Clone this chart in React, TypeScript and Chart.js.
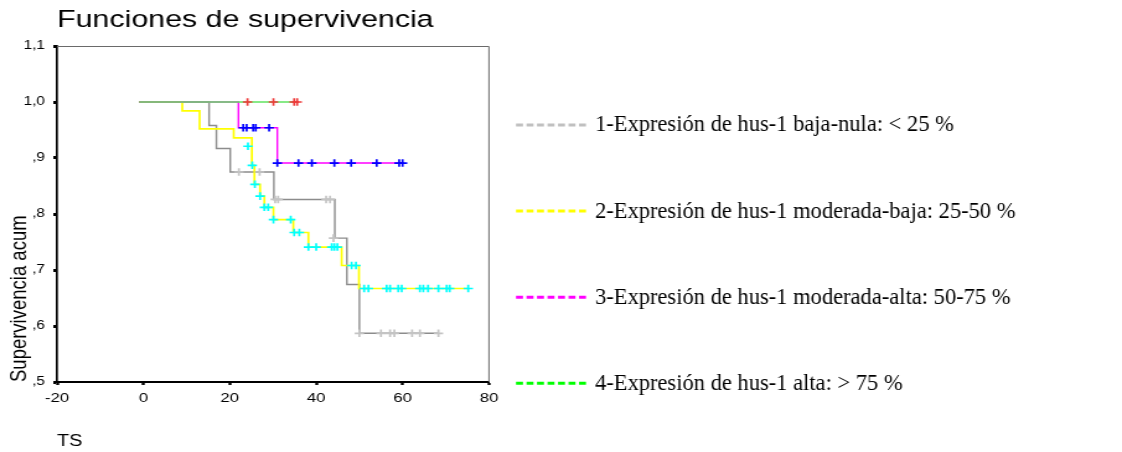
import React, { useEffect, useRef } from 'react';
import { Chart, registerables } from 'chart.js';

Chart.register(...registerables);

// ---- data ----
const TITLE = 'Funciones de supervivencia';
const Y_TITLE = 'Supervivencia acum';
const X_TITLE = 'TS';
const X_MIN = -20;
const X_MAX = 80;
const X_STEP = 20;
const Y_MIN = 0.5;
const Y_MAX = 1.1;
const Y_STEP = 0.1;

const groupLabels = [
  '1-Expresión de hus-1 baja-nula: < 25 %',
  '2-Expresión de hus-1 moderada-baja: 25-50 %',
  '3-Expresión de hus-1 moderada-alta: 50-75 %',
  '4-Expresión de hus-1 alta: > 75 %',
];

// Group 1 (baja-nula)
const g1Times = [-1, 15.2, 16.9, 20.1, 30.2, 44.3, 47.1, 50.0, 68.3];
const g1Surv = [1.0, 0.958, 0.917, 0.875, 0.826, 0.757, 0.674, 0.587, 0.587];
const g1CensTimes = [22.1, 26.9, 30.5, 31.2, 42.3, 43.2, 44.0, 50.0, 55.0, 57.1, 58.1, 62.2, 64.0, 68.3];
const g1CensSurv = [0.875, 0.875, 0.826, 0.826, 0.826, 0.826, 0.757, 0.587, 0.587, 0.587, 0.587, 0.587, 0.587, 0.587];

// Group 2 (moderada-baja)
const g2Times = [-1, 9.0, 13.0, 20.9, 25.1, 25.7, 27.0, 28.0, 30.1, 34.7, 38.2, 45.9, 49.9, 75.2];
const g2Surv = [1.0, 0.984, 0.952, 0.936, 0.887, 0.853, 0.832, 0.812, 0.79, 0.767, 0.741, 0.708, 0.667, 0.667];
const g2CensTimes = [24.2, 25.2, 25.8, 27.0, 28.0, 28.9, 30.1, 34.1, 34.9, 36.1, 38.2, 40.0, 43.6, 44.2, 44.9, 48.2, 49.2,
  51.1, 52.1, 56.3, 57.1, 59.0, 59.8, 64.0, 64.8, 65.9, 68.3, 70.2, 70.9, 75.2];
const g2CensSurv = [0.921, 0.887, 0.853, 0.832, 0.812, 0.812, 0.79, 0.79, 0.767, 0.767, 0.741, 0.741, 0.741, 0.741, 0.741, 0.708, 0.708,
  0.667, 0.667, 0.667, 0.667, 0.667, 0.667, 0.667, 0.667, 0.667, 0.667, 0.667, 0.667, 0.667];

// Group 3 (moderada-alta)
const g3Times = [-1, 22.0, 31.0, 60.0];
const g3Surv = [1.0, 0.954, 0.891, 0.891];
const g3CensTimes = [23.1, 23.9, 25.4, 26.0, 29.1, 31.0, 35.9, 39.0, 44.2, 48.1, 54.0, 59.2, 60.0];
const g3CensSurv = [0.954, 0.954, 0.954, 0.954, 0.954, 0.891, 0.891, 0.891, 0.891, 0.891, 0.891, 0.891, 0.891];

// Group 4 (alta)
const g4Times = [-1, 35.6];
const g4Surv = [1.0, 1.0];
const g4CensTimes = [24.1, 30.1, 34.9, 35.6];
const g4CensSurv = [1.0, 1.0, 1.0, 1.0];

// ---- styling ----
const CANVAS_W = 905; // internal width, stretched to 1122 on screen
const SCREEN_W = 1122;
const H = 452;
const S = SCREEN_W / CANVAS_W;

const lineColors = ['#8c8c8c', '#ffff00', '#ff00ff', '#5fe35f'];
const censColors = ['#c4c4c4', '#00ffff', '#0000ff', '#ee3a3a'];
const legendColors = ['#c0c0c0', '#ffff00', '#ff00ff', '#00ff00'];

const toPts = (xs: number[], ys: number[]) => xs.map((x, i) => ({ x, y: ys[i] }));

const fmtY = (v: number) => {
  const s = Number(v).toFixed(1).replace('.', ',');
  return s.startsWith('0') ? s.slice(1) : s;
};

const framePlugin = {
  id: 'frame',
  beforeDatasetsDraw(chart: any) {
    const { ctx, chartArea } = chart;
    ctx.save();
    ctx.strokeStyle = '#6a6a6a';
    ctx.lineWidth = 1;
    ctx.beginPath();
    ctx.moveTo(chartArea.left, chartArea.top + 0.5);
    ctx.lineTo(chartArea.right, chartArea.top + 0.5);
    ctx.lineTo(chartArea.right, chartArea.bottom);
    ctx.stroke();
    ctx.restore();
  },
};

const sideLegendPlugin = {
  id: 'sideLegend',
  afterDraw(chart: any) {
    const ctx = chart.ctx;
    ctx.save();
    ctx.scale(1 / S, 1);
    const x0 = 516;
    const x1 = 587;
    const tx = 595;
    const y0 = 125;
    const dy = 86.1;
    groupLabels.forEach((label, i) => {
      const y = y0 + i * dy;
      ctx.strokeStyle = legendColors[i];
      ctx.lineWidth = 3;
      ctx.setLineDash([7, 3.5]);
      ctx.beginPath();
      ctx.moveTo(x0, y);
      ctx.lineTo(x1, y);
      ctx.stroke();
      ctx.setLineDash([]);
      ctx.fillStyle = '#000';
      ctx.font = '22.5px "Liberation Serif", "Times New Roman", serif';
      ctx.textAlign = 'left';
      ctx.textBaseline = 'middle';
      ctx.fillText(label, tx, y + 0.5);
    });
    ctx.restore();
  },
};

export default function App() {
  const ref = useRef<HTMLCanvasElement | null>(null);

  useEffect(() => {
    if (!ref.current) return;
    Chart.defaults.font.family = '"Liberation Sans", Arial, sans-serif';
    Chart.defaults.color = '#000';

    const curves = [
      toPts(g1Times, g1Surv),
      toPts(g2Times, g2Surv),
      toPts(g3Times, g3Surv),
      toPts(g4Times, g4Surv),
    ];
    const cens = [
      toPts(g1CensTimes, g1CensSurv),
      toPts(g2CensTimes, g2CensSurv),
      toPts(g3CensTimes, g3CensSurv),
      toPts(g4CensTimes, g4CensSurv),
    ];

    const datasets: any[] = [];
    curves.forEach((data, i) => {
      datasets.push({
        label: groupLabels[i],
        data,
        showLine: true,
        stepped: 'before',
        borderColor: lineColors[i],
        backgroundColor: lineColors[i],
        borderWidth: i === 1 ? 1.7 : 1.4,
        pointRadius: 0,
        fill: false,
        order: 8 - i,
      });
    });
    cens.forEach((data, i) => {
      datasets.push({
        label: groupLabels[i] + ' (censurado)',
        data,
        showLine: false,
        pointStyle: 'cross',
        pointRadius: 3.8,
        pointBorderWidth: 1.7,
        borderColor: censColors[i],
        backgroundColor: censColors[i],
        order: 4 - i,
      });
    });

    const chart = new Chart(ref.current, {
      type: 'scatter',
      data: { datasets },
      plugins: [framePlugin, sideLegendPlugin],
      options: {
        animation: false,
        responsive: false,
        devicePixelRatio: 1,
        layout: { padding: { top: 5.8, left: 0, right: 510.6, bottom: 0 } },
        plugins: {
          legend: { display: false },
          tooltip: { enabled: false },
          title: {
            display: true,
            text: TITLE,
            align: 'start',
            fullSize: false,
            color: '#000',
            font: { size: 24.5, weight: 'normal', lineHeight: 1.2 },
            padding: { top: 0, bottom: 10.8 },
          },
        },
        scales: {
          x: {
            type: 'linear',
            min: X_MIN,
            max: X_MAX,
            afterFit: (scale: any) => { scale.height = 70; },
            ticks: {
              stepSize: X_STEP,
              color: '#000',
              font: { size: 13.5 },
              padding: 5.2,
              maxRotation: 0,
              autoSkip: false,
            },
            grid: {
              display: true,
              drawOnChartArea: false,
              drawTicks: true,
              tickLength: 3,
              tickWidth: 2.4,
              tickColor: '#000',
            },
            border: { display: true, color: '#000', width: 2 },
            title: {
              display: true,
              text: X_TITLE,
              align: 'start',
              color: '#000',
              font: { size: 16 },
              padding: { top: 0, bottom: 0.4 },
            },
          },
          y: {
            type: 'linear',
            min: Y_MIN,
            max: Y_MAX,
            afterFit: (scale: any) => { scale.width = 46; },
            ticks: {
              stepSize: Y_STEP,
              color: '#000',
              font: { size: 12.5 },
              padding: 6.7,
              callback: (v: any) => fmtY(v),
            },
            grid: {
              display: true,
              drawOnChartArea: false,
              drawTicks: true,
              tickLength: 3,
              tickWidth: 3,
              tickColor: '#000',
            },
            border: { display: true, color: '#000', width: 1.7 },
            title: {
              display: true,
              text: Y_TITLE,
              align: 'start',
              color: '#000',
              font: { size: 18.5 },
              padding: { top: 4.5, bottom: 0 },
            },
          },
        },
      },
    } as any);

    return () => chart.destroy();
  }, []);

  return (
    <div style={{ position: 'absolute', left: 0, top: 0, width: SCREEN_W, height: H, background: '#fff' }}>
      <canvas
        ref={ref}
        width={CANVAS_W}
        height={H}
        style={{ width: SCREEN_W + 'px', height: H + 'px', display: 'block' }}
      />
    </div>
  );
}
